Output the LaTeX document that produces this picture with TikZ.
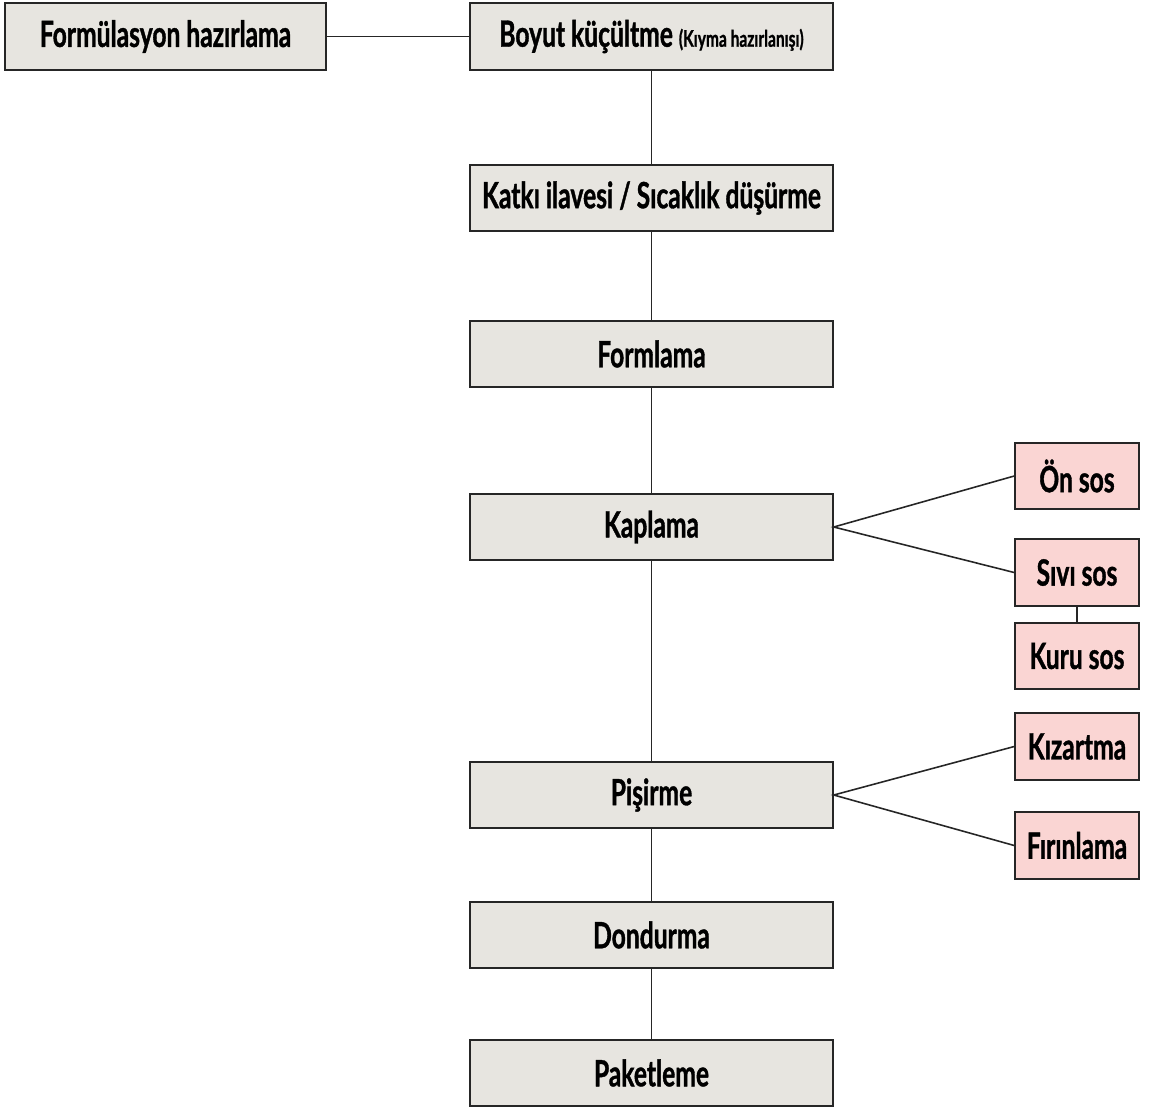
\documentclass[tikz,border=0pt]{standalone}
\usepackage{fontspec}
\setmainfont{Lato}[FakeStretch=0.68, BoldFeatures={FakeBold=1}]
\usepackage{tikz}
\usetikzlibrary{positioning}
\definecolor{stepgray}{HTML}{E7E5E0}
\definecolor{subpink}{HTML}{FAD5D3}
\definecolor{edgegray}{HTML}{262626}

\begin{document}
\begin{tikzpicture}[x=0.02cm, y=-0.02cm,
    mainbox/.style={draw=edgegray, line width=0.9pt, fill=stepgray, minimum width=7.26cm, minimum height=1.33cm, inner sep=0pt, font=\fontsize{20.6}{24}\selectfont\bfseries},
    sidebox/.style={mainbox, fill=subpink, minimum width=2.48cm},
    link/.style={draw=edgegray, line width=0.9pt}]
    \useasboundingbox (0,0) rectangle (1150,1110);
    % main chain
    \node[mainbox, minimum width=6.42cm] (formul) at (165.5,36.5) {Formülasyon hazırlama};
    \node[mainbox] (boyut) at (651.5,36.5) {Boyut küçültme {\fontsize{13}{15}\selectfont(Kıyma hazırlanışı)}};
    \node[mainbox] (katki) at (651.5,198) {Katkı ilavesi / Sıcaklık düşürme};
    \node[mainbox] (formlama) at (651.5,354) {Formlama};
    \node[mainbox] (kaplama) at (651.5,527) {Kaplama};
    \node[mainbox] (pisirme) at (651.5,795) {Pişirme};
    \node[mainbox] (dondurma) at (651.5,935) {Dondurma};
    \node[mainbox] (paket) at (651.5,1073) {Paketleme};
    % side steps
    \node[sidebox] (onsos) at (1077,476) {Ön sos};
    \node[sidebox] (sivisos) at (1077,572.5) {Sıvı sos};
    \node[sidebox] (kurusos) at (1077,656) {Kuru sos};
    \node[sidebox] (kizart) at (1077,746.5) {Kızartma};
    \node[sidebox] (firin) at (1077,845.5) {Fırınlama};

    \draw[link] (formul) -- (boyut);
    \draw[link] (boyut) -- (katki) -- (formlama) -- (kaplama) -- (pisirme) -- (dondurma) -- (paket);
    \draw[link] (onsos.west) -- (kaplama.east) -- (sivisos.west);
    \draw[link] (sivisos) -- (kurusos);
    \draw[link] (kizart.west) -- (pisirme.east) -- (firin.west);
\end{tikzpicture}
\end{document}
